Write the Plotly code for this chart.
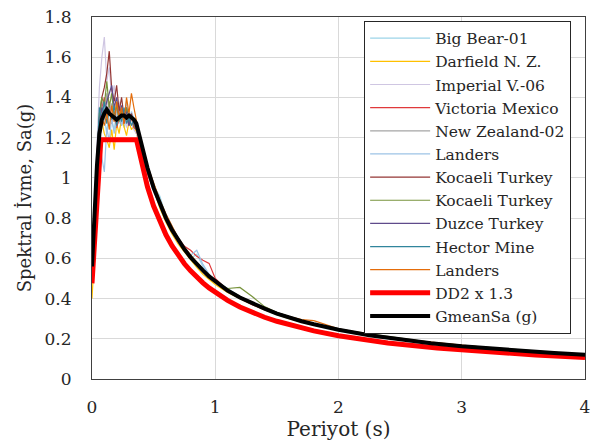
import plotly.graph_objects as go

# Periods (s) shared by the individual records and the geometric mean
periods = [0, 0.02, 0.04, 0.06, 0.08, 0.10, 0.12, 0.14, 0.16, 0.18, 0.20, 0.22, 0.24, 0.26, 0.28, 0.30, 0.32, 0.34, 0.36, 0.38, 0.40,
           0.45, 0.50, 0.55, 0.60, 0.65, 0.70, 0.75, 0.80, 0.85, 0.90, 0.95, 1.00,
           1.1, 1.2, 1.3, 1.4, 1.5, 1.6, 1.7, 1.8, 1.9, 2.0,
           2.25, 2.5, 2.75, 3.0, 3.25, 3.5, 3.75, 4.0]

record_names = ["Big Bear-01", "Darfield N. Z.", "Imperial V.-06", "Victoria Mexico", "New Zealand-02",
                "Landers", "Kocaeli Turkey", "Kocaeli Turkey", "Duzce Turkey", "Hector Mine", "Landers"]

big_bear = [0.55, 0.78, 1.02, 1.25, 1.38, 1.30, 1.22, 1.35, 1.28, 1.24, 1.33, 1.27, 1.36, 1.25, 1.30, 1.34, 1.26, 1.28, 1.24, 1.20, 1.12,
            1.04, 0.96, 0.91, 0.81, 0.74, 0.68, 0.64, 0.60, 0.62, 0.56, 0.52, 0.49,
            0.45, 0.41, 0.37, 0.35, 0.33, 0.31, 0.29, 0.27, 0.26, 0.25,
            0.22, 0.20, 0.18, 0.165, 0.152, 0.141, 0.13, 0.122]
darfield = [0.40, 0.62, 0.95, 1.18, 1.28, 1.22, 1.19, 1.15, 1.24, 1.14, 1.27, 1.22, 1.30, 1.25, 1.21, 1.28, 1.24, 1.26, 1.22, 1.18, 1.12,
            1.03, 0.93, 0.85, 0.78, 0.72, 0.67, 0.63, 0.59, 0.555, 0.52, 0.495, 0.47,
            0.43, 0.40, 0.37, 0.345, 0.32, 0.30, 0.283, 0.268, 0.255, 0.242,
            0.215, 0.194, 0.176, 0.161, 0.148, 0.137, 0.127, 0.119]
imperial = [0.60, 0.90, 1.20, 1.45, 1.60, 1.70, 1.48, 1.55, 1.40, 1.46, 1.30, 1.38, 1.28, 1.34, 1.25, 1.30, 1.27, 1.24, 1.22, 1.18, 1.12,
            1.02, 0.93, 0.86, 0.79, 0.73, 0.68, 0.64, 0.60, 0.565, 0.535, 0.505, 0.48,
            0.435, 0.40, 0.37, 0.345, 0.322, 0.302, 0.285, 0.27, 0.256, 0.243,
            0.216, 0.194, 0.177, 0.162, 0.149, 0.138, 0.128, 0.12]
victoria = [0.58, 0.85, 1.10, 1.28, 1.34, 1.40, 1.30, 1.38, 1.27, 1.33, 1.25, 1.29, 1.34, 1.27, 1.31, 1.26, 1.30, 1.25, 1.24, 1.19, 1.13,
            1.02, 0.94, 0.86, 0.80, 0.74, 0.70, 0.66, 0.64, 0.61, 0.59, 0.575, 0.50,
            0.44, 0.40, 0.37, 0.345, 0.325, 0.305, 0.29, 0.272, 0.258, 0.244,
            0.218, 0.197, 0.179, 0.163, 0.15, 0.14, 0.13, 0.121]
new_zealand = [0.57, 0.82, 1.08, 1.30, 1.36, 1.29, 1.42, 1.32, 1.37, 1.28, 1.34, 1.30, 1.26, 1.33, 1.29, 1.27, 1.32, 1.28, 1.25, 1.20, 1.14,
               1.04, 0.95, 0.87, 0.80, 0.74, 0.69, 0.645, 0.605, 0.57, 0.54, 0.51, 0.485,
               0.44, 0.405, 0.375, 0.35, 0.325, 0.305, 0.287, 0.272, 0.258, 0.245,
               0.218, 0.196, 0.178, 0.163, 0.15, 0.139, 0.129, 0.121]
landers_1 = [0.52, 0.75, 1.00, 1.20, 1.10, 1.03, 1.25, 1.18, 1.30, 1.22, 1.28, 1.35, 1.26, 1.31, 1.38, 1.27, 1.33, 1.29, 1.26, 1.22, 1.16,
             1.06, 0.97, 0.89, 0.82, 0.76, 0.70, 0.655, 0.615, 0.64, 0.57, 0.52, 0.49,
             0.45, 0.41, 0.38, 0.355, 0.33, 0.31, 0.29, 0.275, 0.26, 0.247,
             0.22, 0.198, 0.18, 0.165, 0.152, 0.14, 0.13, 0.122]
kocaeli_1 = [0.58, 0.86, 1.12, 1.30, 1.40, 1.45, 1.52, 1.63, 1.44, 1.38, 1.46, 1.33, 1.40, 1.30, 1.35, 1.28, 1.32, 1.27, 1.25, 1.21, 1.15,
             1.05, 0.95, 0.87, 0.80, 0.74, 0.69, 0.645, 0.605, 0.57, 0.54, 0.51, 0.485,
             0.44, 0.405, 0.375, 0.35, 0.325, 0.305, 0.288, 0.273, 0.259, 0.246,
             0.219, 0.197, 0.179, 0.164, 0.151, 0.14, 0.13, 0.122]
kocaeli_2 = [0.57, 0.84, 1.10, 1.32, 1.40, 1.36, 1.48, 1.35, 1.42, 1.30, 1.36, 1.28, 1.33, 1.29, 1.35, 1.27, 1.30, 1.26, 1.24, 1.20, 1.14,
             1.04, 0.95, 0.87, 0.80, 0.74, 0.69, 0.645, 0.605, 0.57, 0.54, 0.51, 0.485,
             0.45, 0.455, 0.41, 0.36, 0.33, 0.31, 0.29, 0.275, 0.26, 0.247,
             0.225, 0.205, 0.182, 0.167, 0.155, 0.145, 0.133, 0.123]
duzce = [0.56, 0.83, 1.08, 1.28, 1.35, 1.32, 1.38, 1.42, 1.46, 1.35, 1.40, 1.30, 1.36, 1.28, 1.33, 1.26, 1.31, 1.27, 1.24, 1.20, 1.14,
         1.04, 0.95, 0.87, 0.80, 0.74, 0.69, 0.645, 0.605, 0.57, 0.54, 0.51, 0.485,
         0.44, 0.405, 0.375, 0.35, 0.325, 0.305, 0.287, 0.272, 0.258, 0.245,
         0.218, 0.196, 0.178, 0.163, 0.15, 0.139, 0.129, 0.121]
hector = [0.55, 0.80, 1.12, 1.35, 1.30, 1.38, 1.27, 1.34, 1.29, 1.36, 1.26, 1.32, 1.28, 1.35, 1.27, 1.30, 1.26, 1.29, 1.25, 1.21, 1.15,
          1.05, 0.96, 0.88, 0.81, 0.75, 0.70, 0.65, 0.61, 0.575, 0.545, 0.515, 0.49,
          0.445, 0.41, 0.38, 0.352, 0.328, 0.307, 0.289, 0.274, 0.26, 0.247,
          0.22, 0.198, 0.18, 0.164, 0.151, 0.14, 0.13, 0.122]
landers_2 = [0.56, 0.82, 1.05, 1.24, 1.30, 1.26, 1.32, 1.24, 1.36, 1.28, 1.38, 1.30, 1.35, 1.27, 1.40, 1.32, 1.42, 1.35, 1.28, 1.22, 1.16,
             1.06, 0.97, 0.89, 0.82, 0.76, 0.70, 0.655, 0.615, 0.58, 0.545, 0.515, 0.49,
             0.445, 0.41, 0.38, 0.355, 0.33, 0.31, 0.295, 0.29, 0.27, 0.25,
             0.222, 0.2, 0.183, 0.167, 0.154, 0.142, 0.132, 0.123]

gmean_sa = [0.56, 0.82, 1.06, 1.22, 1.29, 1.32, 1.34, 1.32, 1.31, 1.30, 1.29, 1.30, 1.31, 1.31, 1.30, 1.31, 1.30, 1.29, 1.27, 1.22, 1.16,
            1.05, 0.95, 0.87, 0.80, 0.74, 0.69, 0.645, 0.605, 0.57, 0.54, 0.51, 0.485,
            0.44, 0.405, 0.375, 0.35, 0.325, 0.305, 0.287, 0.272, 0.258, 0.245,
            0.218, 0.196, 0.178, 0.163, 0.150, 0.139, 0.129, 0.121]

# DD2 design spectrum x 1.3
dd2_periods = [0, 0.072, 0.361, 0.40, 0.45, 0.50, 0.55, 0.60, 0.65, 0.70, 0.75, 0.80, 0.85, 0.90, 0.95, 1.0,
               1.1, 1.2, 1.3, 1.4, 1.5, 1.6, 1.8, 2.0, 2.4, 2.8, 3.2, 3.6, 4.0]
dd2_sa = [0.476, 1.19, 1.19, 1.075, 0.956, 0.86, 0.782, 0.717, 0.662, 0.614, 0.573, 0.5375, 0.506, 0.478, 0.453, 0.43,
          0.391, 0.358, 0.331, 0.307, 0.287, 0.269, 0.239, 0.215, 0.179, 0.154, 0.134, 0.119, 0.1075]

records = [big_bear, darfield, imperial, victoria, new_zealand, landers_1,
           kocaeli_1, kocaeli_2, duzce, hector, landers_2]
record_colors = ["#9CD4E8", "#FFC000", "#CFC6E2", "#E0393B", "#A5A5A5", "#9DC3E6",
                 "#943634", "#77933C", "#5F4B8B", "#31859C", "#E46C0A"]

FONT = "DejaVu Serif"
TXT = "#262626"

fig = go.Figure()
for name, vals, col in zip(record_names, records, record_colors):
    fig.add_trace(go.Scatter(x=periods, y=vals, mode="lines", name=name,
                             line=dict(color=col, width=1.2)))
fig.add_trace(go.Scatter(x=dd2_periods, y=dd2_sa, mode="lines", name="DD2 x 1.3",
                         line=dict(color="#FF0000", width=5)))
fig.add_trace(go.Scatter(x=periods, y=gmean_sa, mode="lines", name="GmeanSa (g)",
                         line=dict(color="#000000", width=4)))

fig.update_layout(
    width=597, height=443,
    margin=dict(l=92, r=7, t=13, b=64),
    paper_bgcolor="white", plot_bgcolor="white",
    font=dict(family=FONT, color=TXT, size=16),
    showlegend=True,
    legend=dict(x=0.552, y=0.99, xanchor="left", yanchor="top",
                bgcolor="white", bordercolor="#262626", borderwidth=1,
                font=dict(family=FONT, size=15.5, color=TXT),
                itemwidth=60, tracegroupgap=0),
    xaxis=dict(range=[0, 4], dtick=1, tick0=0, showgrid=True, gridcolor="#D9D9D9", gridwidth=1,
               showline=True, mirror=True, linecolor="#404040", linewidth=1,
               ticks="outside", ticklen=13, tickcolor="rgba(0,0,0,0)",
               zeroline=False, tickfont=dict(size=17),
               title=dict(text="Periyot (s)", font=dict(size=20), standoff=0)),
    yaxis=dict(range=[0, 1.8], dtick=0.2, tick0=0, showgrid=True, gridcolor="#D9D9D9", gridwidth=1,
               showline=True, mirror=True, linecolor="#404040", linewidth=1,
               ticks="outside", ticklen=16, tickcolor="rgba(0,0,0,0)",
               zeroline=False, tickfont=dict(size=17),
               title=dict(text="Spektral İvme, Sa(g)", font=dict(size=18), standoff=8)),
)

fig.write_html("out.html")
